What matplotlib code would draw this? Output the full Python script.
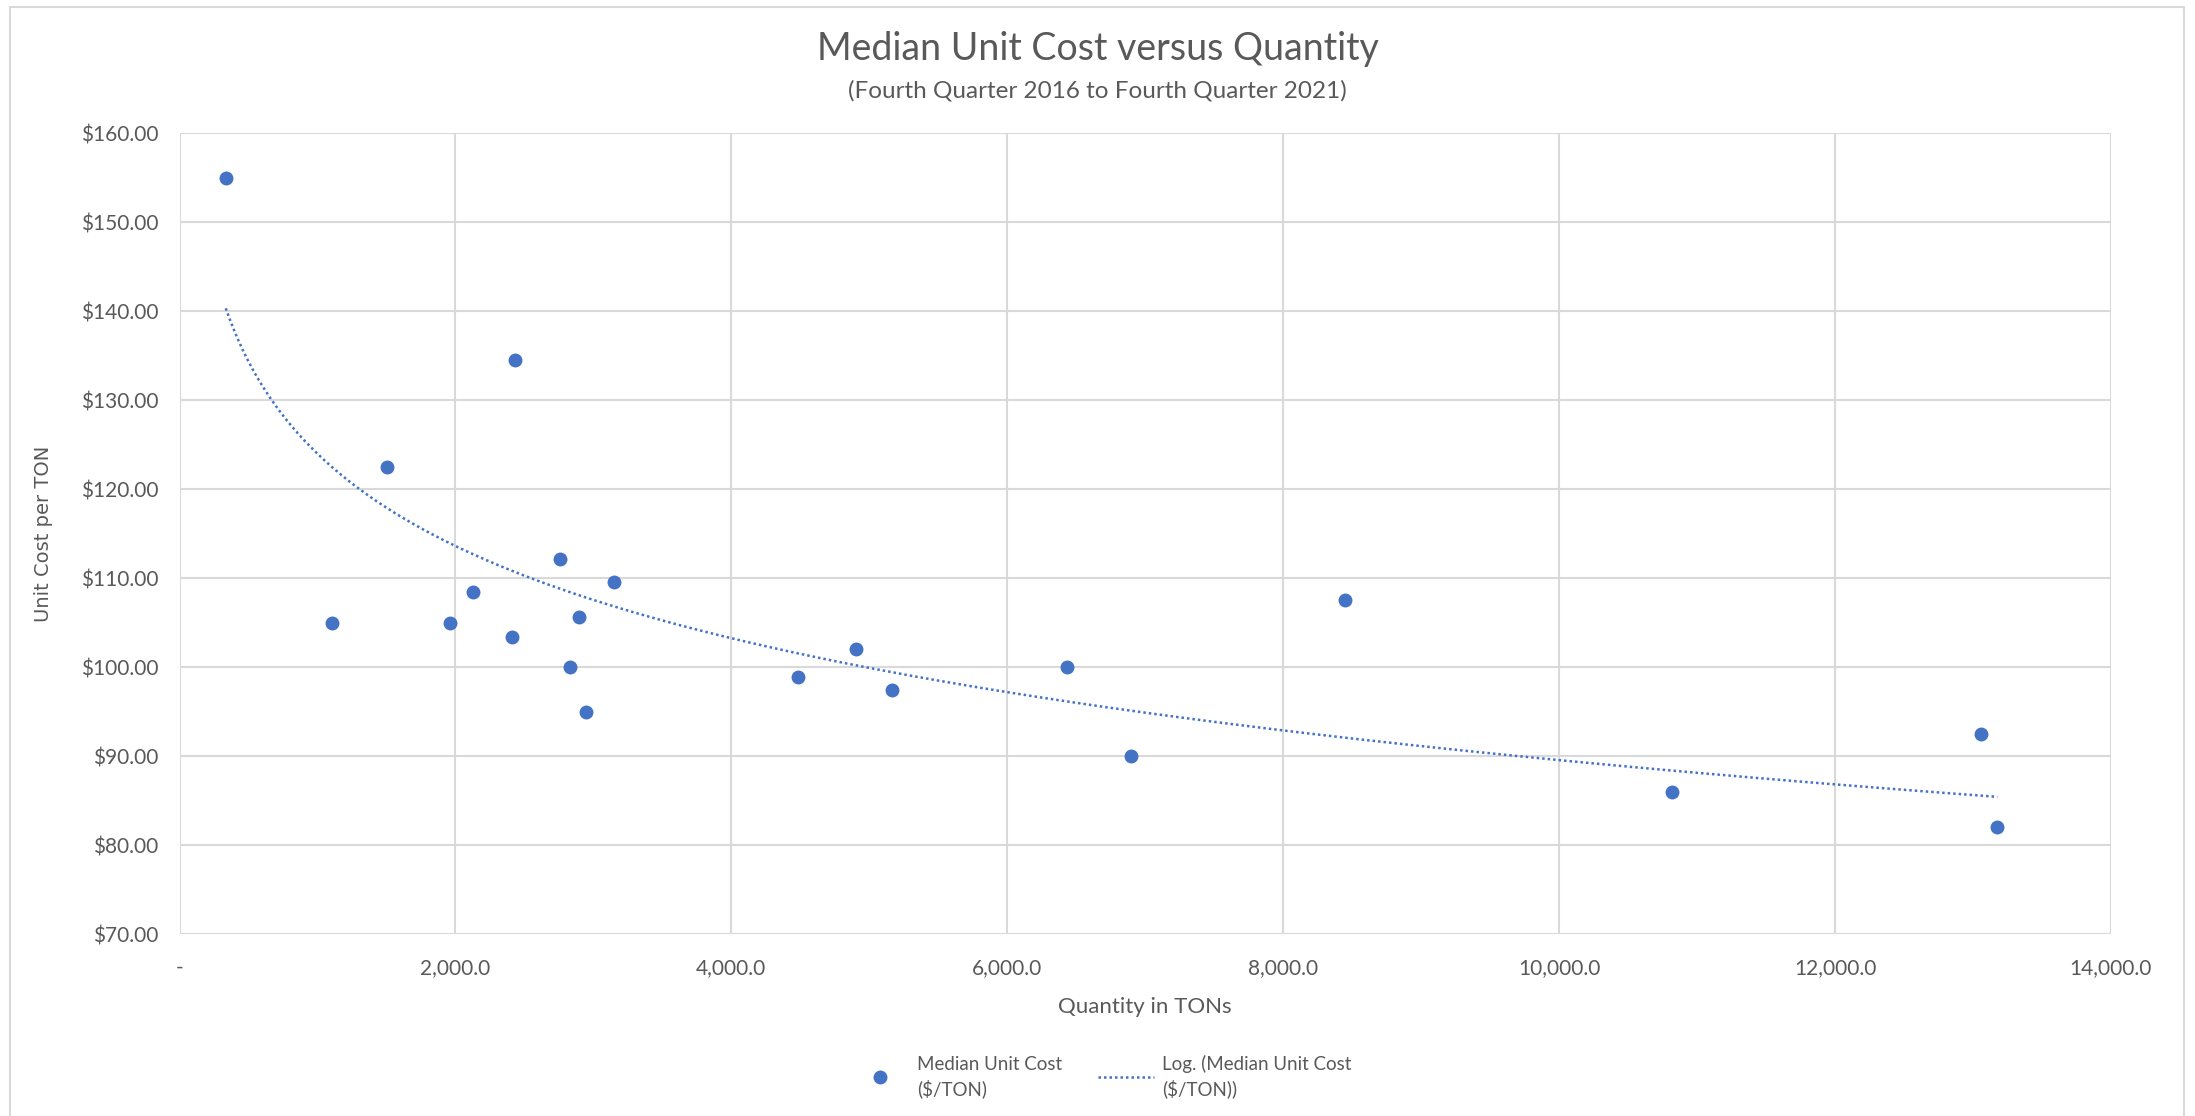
import numpy as np
import matplotlib.pyplot as plt
from matplotlib.ticker import FuncFormatter, MultipleLocator
from matplotlib.patches import Rectangle

# Data
quantity_tons = [335, 1108, 1505, 1962, 2125, 2410, 2430, 2755, 2827, 2898, 2949,
                 3152, 4484, 4901, 5165, 6436, 6894, 8449, 10818, 13055, 13177]
median_unit_cost = [155.0, 105.0, 122.5, 105.0, 108.4, 103.4, 134.5, 112.1, 100.0, 105.6, 95.0,
                    109.6, 98.9, 102.0, 97.4, 100.0, 90.0, 107.5, 86.0, 92.5, 82.0]

title = 'Median Unit Cost versus Quantity'
subtitle = '(Fourth Quarter 2016 to Fourth Quarter 2021)'
x_label = 'Quantity in TONs'
y_label = 'Unit Cost per TON'
series_label = 'Median Unit Cost\n($/TON)'
trend_label = 'Log. (Median Unit Cost\n($/TON))'

blue = '#4472C4'
grey_text = '#595959'
grid_col = '#D9D9D9'

plt.rcParams['font.family'] = ['Lato', 'DejaVu Sans']

fig = plt.figure(figsize=(21.95, 11.16), dpi=100)
ax = fig.add_axes([0.0818, 0.163, 0.9617 - 0.0818, 0.8808 - 0.163])

# chart area border
fig.patches.append(Rectangle((10 / 2195, -0.02), 2174 / 2195, 1 - 7 / 1116 + 0.02,
                             transform=fig.transFigure, fill=False,
                             edgecolor=grid_col, linewidth=1.5))

x = np.array(quantity_tons, dtype=float)
y = np.array(median_unit_cost)

# logarithmic trendline, like Excel's Log. fit
a, b = np.polyfit(np.log(x), y, 1)
xs = np.linspace(x.min(), x.max(), 400)
ax.plot(xs, a * np.log(xs) + b, color=blue, linewidth=1.8,
        linestyle=(0, (1, 1.2)), label=trend_label, zorder=2)

ax.plot(x, y, linestyle='', marker='o', markersize=9, color=blue,
        label=series_label, zorder=3)

ax.set_xlim(0, 14000)
ax.set_ylim(70, 160)
ax.xaxis.set_major_locator(MultipleLocator(2000))
ax.yaxis.set_major_locator(MultipleLocator(10))
ax.xaxis.set_major_formatter(FuncFormatter(lambda v, p: '-' if v == 0 else f'{v:,.1f}'))
ax.yaxis.set_major_formatter(FuncFormatter(lambda v, p: f'${v:,.2f}'))

ax.grid(True, color=grid_col, linewidth=1.5)
ax.set_axisbelow(True)
for s in ax.spines.values():
    s.set_visible(False)
ax.tick_params(length=0, labelsize=15, labelcolor=grey_text)
ax.tick_params(axis='y', pad=15)
ax.tick_params(axis='x', pad=17)

ax.set_xlabel(x_label, fontsize=16, color=grey_text, labelpad=14)
ax.set_ylabel(y_label, fontsize=14, color=grey_text, family=['DejaVu Sans'])
ax.yaxis.set_label_coords(-0.0655, 0.5)

fig.text(0.5, 0.956, title, ha='center', va='center', fontsize=27,
         color=grey_text)
fig.text(0.5, 0.919, subtitle, ha='center', va='center', fontsize=17.5,
         color=grey_text)

h, l = ax.get_legend_handles_labels()
leg = fig.legend(h[::-1], l[::-1], loc='center', bbox_to_anchor=(0.502, 0.035),
                 ncol=2, frameon=False, fontsize=13.5, labelcolor=grey_text,
                 handlelength=3.0, columnspacing=1.9, handletextpad=0.45)
for t in leg.get_texts():
    t.set_linespacing(1.4)

fig.savefig('out.png', dpi=100)
